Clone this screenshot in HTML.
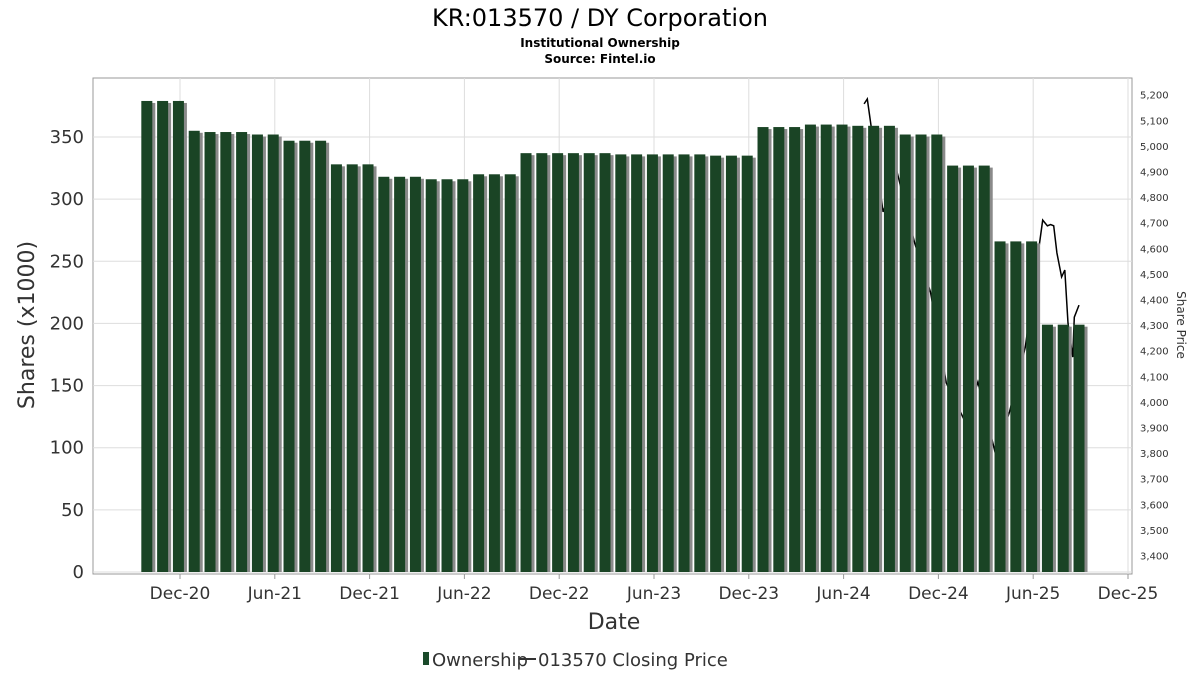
<!DOCTYPE html>
<html><head><meta charset="utf-8"><style>
body{margin:0;background:#fff;font-family:"DejaVu Sans","Liberation Sans",sans-serif}
</style></head><body>
<svg width="1200" height="675" xmlns="http://www.w3.org/2000/svg">
<text x="600" y="26" text-anchor="middle" font-size="24">KR:013570 / DY Corporation</text>
<text x="600" y="47" text-anchor="middle" font-size="12" font-weight="bold">Institutional Ownership</text>
<text x="600" y="63" text-anchor="middle" font-size="12" font-weight="bold">Source: Fintel.io</text>
<rect x="93" y="78" width="1039" height="496" fill="#fff" stroke="#999"/>
<g id="grid"></g><g id="line"></g><g id="bars"></g><g id="axes"></g>
<text x="614" y="629" text-anchor="middle" font-size="22" fill="#333">Date</text>
<text transform="translate(34,325) rotate(-90)" text-anchor="middle" font-size="22" fill="#333">Shares (x1000)</text>
<text transform="translate(1177,325) rotate(90)" text-anchor="middle" font-size="12" fill="#333">Share Price</text>
<g>
<rect x="423" y="652" width="6" height="13" fill="#1a4a2a"/>
<text x="432" y="666" font-size="18" fill="#333">Ownership</text>
<line x1="520" y1="659" x2="536" y2="659" stroke="#333" stroke-width="2"/>
<text x="538" y="666" font-size="18" fill="#333">013570 Closing Price</text>
</g>
</svg>
<script>
const ownership=[379,379,379,355,354,354,354,352,352,347,347,347,328,328,328,318,318,318,316,316,316,320,320,320,337,337,337,337,337,337,336,336,336,336,336,336,335,335,335,358,358,358,360,360,360,359,359,359,352,352,352,327,327,327,266,266,266,199,199,199];
const priceMonths=[43.3,43.5,44.5,45.4,46.5,47.5,48.5,49.7,50.5,51.6,52.5,53.5,54.6,54.9,55.1,55.3,55.5,55.8,56.0,56.2,56.5,56.6,56.9];
const priceValues=[5166,5185,4744,4896,4622,4431,4076,3923,4080,3802,3962,4216,4712,4690,4695,4690,4584,4490,4517,4310,4177,4333,4380];
const leftTicks=[0,50,100,150,200,250,300,350];
const rightTicks=[3400,3500,3600,3700,3800,3900,4000,4100,4200,4300,4400,4500,4600,4700,4800,4900,5000,5100,5200];
const xTickLabels=["Dec-20","Jun-21","Dec-21","Jun-22","Dec-22","Jun-23","Dec-23","Jun-24","Dec-24","Jun-25","Dec-25"];
const xTickMonths=[0,6,12,18,24,30,36,42,48,54,60];
const NS="http://www.w3.org/2000/svg";
const xm=m=>180+15.8*m;
const yL=v=>572-v*435/350;
const yR=v=>556-(v-3400)*0.256;
function mk(tag,attrs,parent,txt){const e=document.createElementNS(NS,tag);for(const k in attrs)e.setAttribute(k,attrs[k]);if(txt!==undefined)e.textContent=txt;document.getElementById(parent).appendChild(e);return e;}
leftTicks.forEach(v=>{
  const g=mk('line',{x1:93,x2:1132,y1:yL(v),y2:yL(v),stroke:'#ddd'},'grid');
  
  
  const t=mk('text',{x:84,y:yL(v)+6,'text-anchor':'end','font-size':18,fill:'#333'},'axes',v);
  
  
});
xTickMonths.forEach((m,i)=>{
  const g=mk('line',{x1:xm(m),x2:xm(m),y1:78,y2:574,stroke:'#ddd'},'grid');
  
  
  const k=mk('line',{x1:xm(m),x2:xm(m),y1:574,y2:579,stroke:'#999'},'axes');
  
  
  const t=mk('text',{x:xm(m),y:599,'text-anchor':'middle','font-size':17,fill:'#333'},'axes',xTickLabels[i]);
  
  
});
rightTicks.forEach(v=>{
  const t=mk('text',{x:1140,y:yR(v)+3.5,'font-size':10,fill:'#333'},'axes',v.toLocaleString('en-US'));
  
  
});
const pts=priceMonths.map((m,i)=>xm(m).toFixed(1)+','+yR(priceValues[i]).toFixed(1)).join(' ');
const pl=mk('polyline',{points:pts,fill:'none',stroke:'#000','stroke-width':1.5},'line');


ownership.forEach((v,i)=>{
  const cx=xm(i-2.1);
  const s=mk('rect',{x:cx-5.5+3,y:yL(v)+2,width:11,height:572-yL(v)-2,fill:'#8a8a8a'},'bars');
  
  
  const b=mk('rect',{x:cx-5.5,y:yL(v),width:11,height:572-yL(v),fill:'#1a4425'},'bars');
  
  
});
</script>
</body></html>
